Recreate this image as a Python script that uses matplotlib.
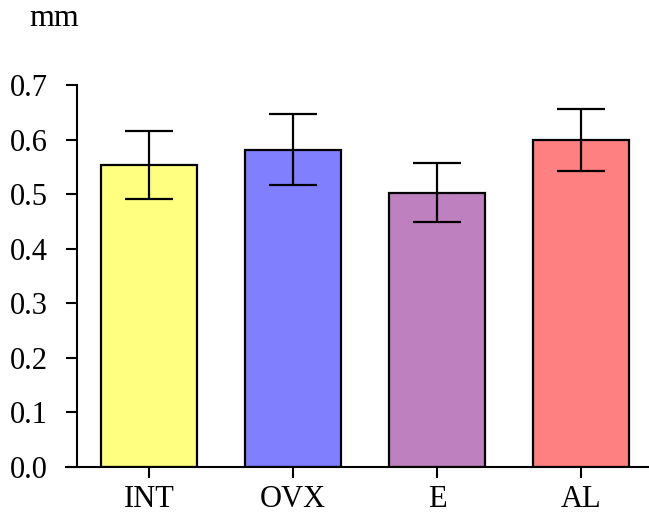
import matplotlib

matplotlib.use("Agg")

import matplotlib.pyplot as plt

groups = ["INT", "OVX", "E", "AL"]
means = [0.553, 0.581, 0.503, 0.599]
errors = [0.062, 0.065, 0.054, 0.057]
colors = ["#FFFF80", "#8080FF", "#BF80BF", "#FF8080"]

plt.rcParams["font.family"] = ["Liberation Serif", "DejaVu Serif"]

fig = plt.figure(figsize=(6.49, 5.15), dpi=100)
# x axis runs a little past the y spine on the left, so the axes box starts there
ax = fig.add_axes([66 / 649, 48 / 515, 583 / 649, 382 / 515])

x = list(range(len(groups)))
ax.bar(x, means, width=0.667, color=colors, edgecolor="black", linewidth=1.6, zorder=2)
ax.errorbar(x, means, yerr=errors, fmt="none", ecolor="black", elinewidth=1.6,
            capsize=17, capthick=1.6, zorder=3)

ax.set_xlim(-0.577, 3.47)
ax.set_ylim(0, 0.7)
ax.spines["left"].set_position(("data", -0.5))
ax.spines["left"].set_bounds(0, 0.7)
for s in ("top", "right"):
    ax.spines[s].set_visible(False)
for s in ("left", "bottom"):
    ax.spines[s].set_linewidth(1.5)

ax.set_yticks([0.0, 0.1, 0.2, 0.3, 0.4, 0.5, 0.6, 0.7])
ax.set_yticklabels([f"{v:.1f}" for v in ax.get_yticks()])
ax.set_xticks(x)
ax.set_xticklabels(groups)
ax.tick_params(axis="y", length=8, width=1.5, pad=13, labelsize=22)
ax.tick_params(axis="x", length=8, width=1.5, pad=5, labelsize=22)

fig.text(29 / 649, 1 - 19 / 515, "mm", fontsize=23, ha="left", va="center")

fig.savefig("out.png", dpi=100)
plt.close(fig)
